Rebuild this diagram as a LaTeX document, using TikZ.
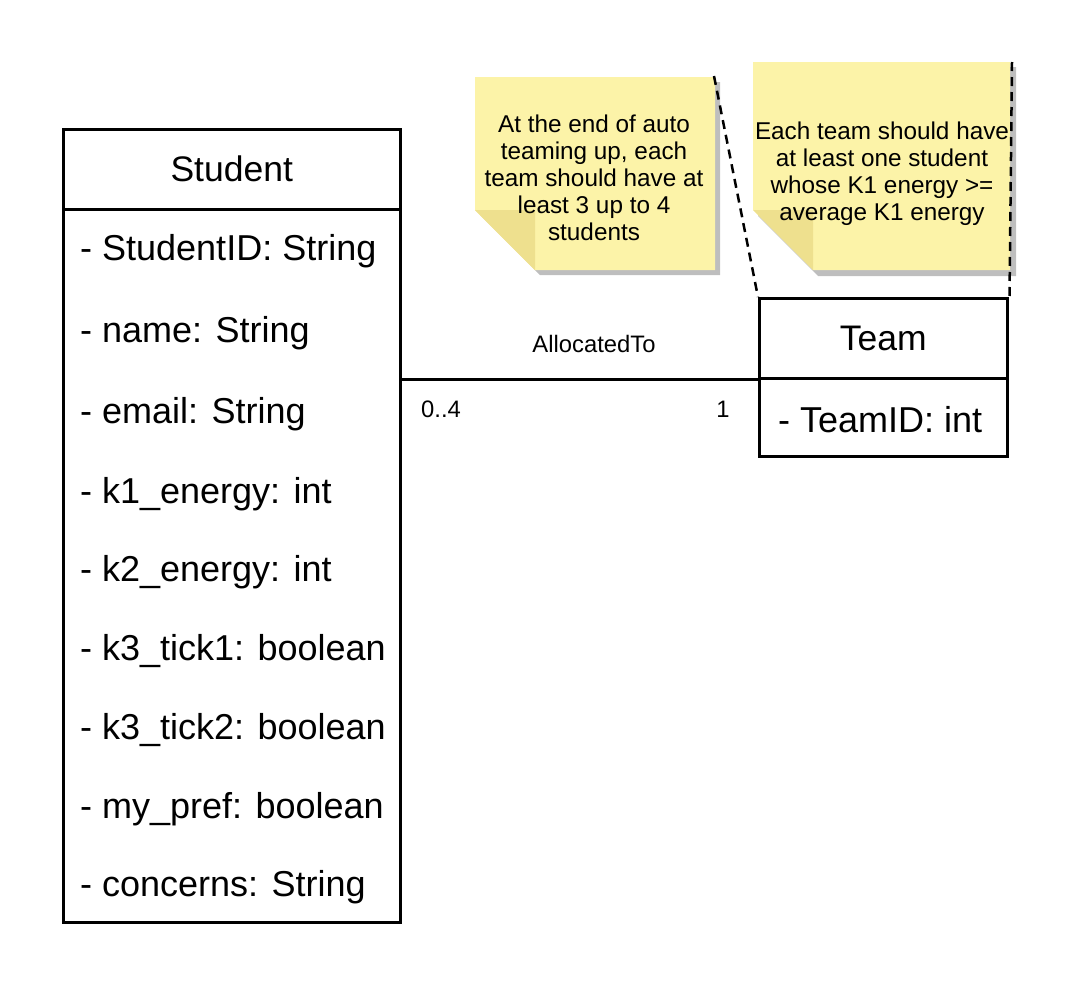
\documentclass[tikz,border=0pt]{standalone}
\usepackage{fontspec}
\setmainfont{Liberation Sans}
\definecolor{notefill}{RGB}{252,243,168}
\definecolor{notefold}{RGB}{238,224,142}
\definecolor{noteshadow}{RGB}{190,190,190}
\begin{document}
\begin{tikzpicture}[x=1pt,y=-1pt,
  umlbox/.style={draw, line width=2.5pt, inner sep=0pt, anchor=north west},
  title/.style={font=\fontsize{35.5}{40}\selectfont},
  attr/.style={anchor=west, inner sep=0pt, font=\fontsize{36}{40}\selectfont},
  small/.style={inner sep=0pt, font=\fontsize{23.8}{27}\selectfont},
  notetext/.style={align=center, inner sep=0pt, font=\fontsize{24.3}{27}\selectfont},
  conn/.style={line width=2.5pt},
  noteconn/.style={line width=2.5pt, dash pattern=on 9pt off 6pt}]
\useasboundingbox (0,0) rectangle (1082,994);

% Note 1
\fill[noteshadow] (480,82) -- (720,82) -- (720,275) -- (540,275) -- (480,215) -- cycle;
\fill[notefill] (475,77) -- (715,77) -- (715,270) -- (535,270) -- (475,210) -- cycle;
\fill[notefold] (475,210) -- (535,210) -- (535,270) -- cycle;
\node[notetext] (note1) at (594,177.5) {At the end of auto\\teaming up, each\\team should have at\\least 3 up to 4\\students};
\coordinate (n1c) at (714,76);

% Note 2
\fill[noteshadow] (758,67) -- (1016,67) -- (1016,276) -- (818,276) -- (758,216) -- cycle;
\fill[notefill] (753,62) -- (1010,62) -- (1010,270) -- (813,270) -- (753,210) -- cycle;
\fill[notefold] (753,210) -- (813,210) -- (813,270) -- cycle;
\node[notetext] (note2) at (882,173.5) {Each team should have\\at least one student\\whose K1 energy >=\\average K1 energy};
\coordinate (n2c) at (1012,62);

% Student class
\node[umlbox, minimum width=337pt, minimum height=80pt, title] (stuhead) at (62,128) {Student};
\node[umlbox, minimum width=337pt, minimum height=713pt] (stubody) at (62,208) {};
\node[attr] (a1) at (80,251) {- StudentID: String};
\node[attr] (a2) at (80,333) {- name: String};
\node[attr] (a3) at (80,414) {- email: String};
\node[attr] (a4) at (80,494) {- k1\_energy: int};
\node[attr] (a5) at (80,572) {- k2\_energy: int};
\node[attr] (a6) at (80,651) {- k3\_tick1: boolean};
\node[attr] (a7) at (80,730) {- k3\_tick2: boolean};
\node[attr] (a8) at (80,809) {- my\_pref: boolean};
\node[attr] (a9) at (80,887) {- concerns: String};

% Team class
\node[umlbox, minimum width=248pt, minimum height=80pt, title] (teamhead) at (758,297) {Team};
\node[umlbox, minimum width=248pt, minimum height=78pt] (teambody) at (758,377) {};
\node[attr] (t1) at (778,420) {- TeamID: int};

% Association
\draw[conn] (stubody.east |- teamhead.south west) -- (teamhead.south west);
\node[small] (assoc) at (594,344) {AllocatedTo};
\node[small, anchor=west] (m1) at (421,409) {0..4};
\node[small] (m2) at (723,409) {1};

% Note connectors
\draw[noteconn] (n1c) -- (teamhead.north west);
\draw[noteconn] (n2c) -- ([xshift=1pt]teamhead.north east);
\end{tikzpicture}
\end{document}
